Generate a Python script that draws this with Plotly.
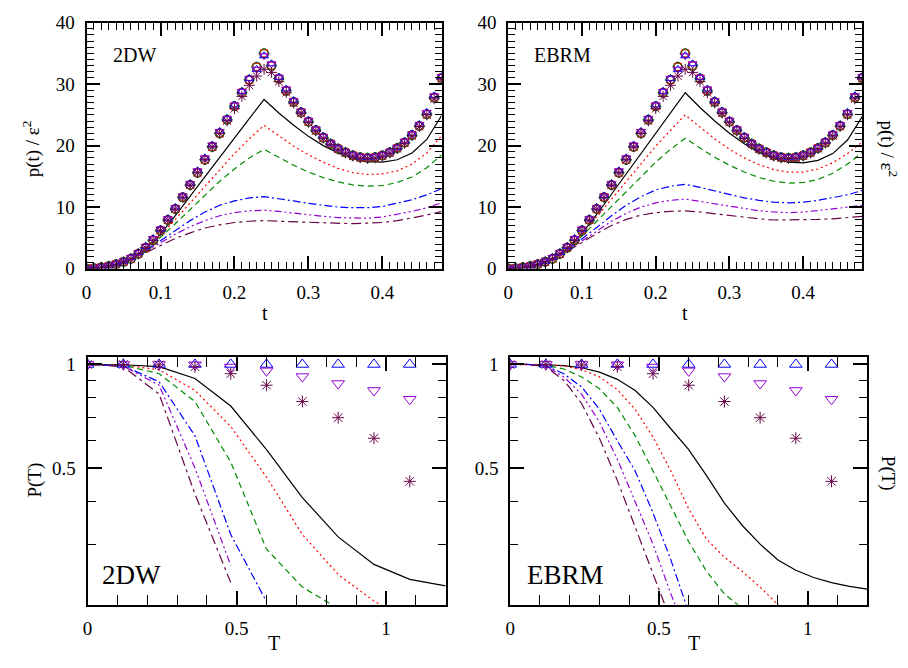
import plotly.graph_objects as go
import math

# ---------------- data ----------------
# top panels: p(t)/eps^2 versus t
t_mark = [0.00, 0.01, 0.02, 0.03, 0.04, 0.05, 0.06, 0.07, 0.08, 0.09,
          0.10, 0.11, 0.12, 0.13, 0.14, 0.15, 0.16, 0.17, 0.18, 0.19,
          0.20, 0.21, 0.22, 0.23, 0.24, 0.25, 0.26, 0.27, 0.28, 0.29,
          0.30, 0.31, 0.32, 0.33, 0.34, 0.35, 0.36, 0.37, 0.38, 0.39,
          0.40, 0.41, 0.42, 0.43, 0.44, 0.45, 0.46, 0.47, 0.48]
p_mark = [0.0, 0.05, 0.2, 0.4, 0.7, 1.1, 1.6, 2.4, 3.4, 4.6,
          6.2, 7.9, 9.7, 11.6, 13.6, 15.6, 17.7, 19.8, 22.0, 24.2,
          26.4, 28.6, 30.7, 32.8, 35.0, 33.0, 30.9, 28.9, 27.1, 25.4,
          23.9, 22.5, 21.3, 20.3, 19.5, 18.9, 18.4, 18.1, 18.0, 18.1,
          18.4, 18.9, 19.6, 20.5, 21.7, 23.2, 25.1, 27.8, 31.0]
p_tri = [0.0, 0.1, 0.25, 0.45, 0.8, 1.2, 1.8, 2.6, 3.6, 4.9,
         6.4, 8.1, 9.9, 11.8, 13.8, 15.9, 18.0, 20.1, 22.3, 24.4,
         26.6, 28.8, 30.9, 32.4, 34.6, 33.3, 31.1, 29.2, 27.3, 25.6,
         24.1, 22.7, 21.5, 20.4, 19.6, 19.0, 18.5, 18.2, 18.1, 18.2,
         18.5, 19.0, 19.7, 20.7, 21.9, 23.4, 25.4, 28.1, 31.2]
p_star = [0.0, 0.05, 0.2, 0.4, 0.7, 1.1, 1.6, 2.4, 3.4, 4.6,
          6.2, 7.9, 9.7, 11.6, 13.6, 15.6, 17.7, 19.8, 22.0, 24.0,
          26.0, 28.0, 29.8, 31.3, 32.4, 31.9, 30.4, 28.6, 26.9, 25.3,
          23.8, 22.4, 21.2, 20.2, 19.4, 18.8, 18.3, 18.0, 17.9, 18.0,
          18.3, 18.8, 19.5, 20.4, 21.6, 23.1, 25.0, 27.6, 30.8]

t_line = [0.00, 0.02, 0.04, 0.06, 0.08, 0.10, 0.12, 0.14, 0.16, 0.18, 0.20, 0.22, 0.24,
          0.26, 0.28, 0.30, 0.32, 0.34, 0.36, 0.38, 0.40, 0.42, 0.44, 0.46, 0.48]

# 2DW lines
dw_black  = [0, 0.2, 0.7, 1.6, 3.2, 5.6, 8.6, 11.8, 15.0, 18.2, 21.3, 24.4, 27.5,
             25.3, 23.3, 21.5, 20.0, 18.8, 17.9, 17.4, 17.3, 17.7, 18.8, 21.0, 24.9]
dw_red    = [0, 0.2, 0.7, 1.6, 3.2, 5.4, 8.0, 10.7, 13.4, 16.1, 18.7, 21.1, 23.3,
             21.6, 19.9, 18.5, 17.3, 16.3, 15.6, 15.3, 15.4, 15.9, 17.0, 18.8, 21.6]
dw_green  = [0, 0.2, 0.7, 1.6, 3.1, 5.1, 7.3, 9.6, 11.9, 14.2, 16.2, 18.0, 19.4,
             18.1, 16.8, 15.7, 14.8, 14.1, 13.6, 13.4, 13.5, 14.0, 14.9, 16.4, 18.5]
dw_blue   = [0, 0.2, 0.7, 1.5, 2.9, 4.5, 6.2, 7.8, 9.2, 10.3, 11.0, 11.5, 11.7,
             11.4, 11.0, 10.6, 10.3, 10.0, 9.9, 9.9, 10.1, 10.6, 11.2, 12.0, 13.0]
dw_violet = [0, 0.2, 0.7, 1.5, 2.8, 4.2, 5.6, 6.8, 7.8, 8.6, 9.1, 9.4, 9.5,
             9.3, 9.0, 8.7, 8.5, 8.3, 8.2, 8.2, 8.4, 8.8, 9.3, 9.9, 10.7]
dw_maroon = [0, 0.2, 0.7, 1.4, 2.6, 3.8, 4.9, 5.8, 6.6, 7.1, 7.5, 7.7, 7.8,
             7.7, 7.6, 7.5, 7.4, 7.3, 7.3, 7.4, 7.5, 7.8, 8.2, 8.7, 9.3]

# EBRM lines
eb_black  = [0, 0.2, 0.7, 1.6, 3.2, 5.7, 8.8, 12.1, 15.5, 18.9, 22.1, 25.4, 28.6,
             26.2, 24.0, 22.0, 20.3, 18.9, 17.9, 17.3, 17.2, 17.6, 18.7, 20.9, 24.7]
eb_red    = [0, 0.2, 0.7, 1.6, 3.2, 5.6, 8.4, 11.3, 14.2, 17.1, 19.9, 22.5, 25.0,
             23.0, 21.1, 19.4, 18.0, 16.9, 16.1, 15.7, 15.7, 16.2, 17.2, 18.7, 20.6]
eb_green  = [0, 0.2, 0.7, 1.6, 3.1, 5.3, 7.7, 10.1, 12.6, 15.0, 17.3, 19.4, 21.2,
             19.6, 18.1, 16.8, 15.7, 14.8, 14.2, 13.9, 14.0, 14.5, 15.5, 17.0, 18.9]
eb_blue   = [0, 0.2, 0.7, 1.5, 3.0, 4.8, 6.7, 8.6, 10.3, 11.7, 12.8, 13.4, 13.7,
             13.2, 12.6, 12.0, 11.5, 11.1, 10.8, 10.7, 10.8, 11.1, 11.5, 12.0, 12.7]
eb_violet = [0, 0.2, 0.7, 1.5, 2.9, 4.5, 6.2, 7.7, 9.0, 10.0, 10.7, 11.1, 11.3,
             10.9, 10.5, 10.1, 9.7, 9.4, 9.2, 9.1, 9.2, 9.4, 9.7, 10.0, 10.3]
eb_maroon = [0, 0.2, 0.7, 1.5, 2.8, 4.3, 5.7, 7.0, 8.0, 8.7, 9.1, 9.3, 9.4,
             9.2, 8.9, 8.6, 8.3, 8.1, 7.9, 7.9, 7.9, 8.0, 8.1, 8.3, 8.5]

# bottom panels: P(T) versus T
T_mark = [0.00, 0.12, 0.24, 0.36, 0.48, 0.60, 0.72, 0.84, 0.96, 1.08]
dw_up   = [1.0, 1.0, 1.0, 1.0, 1.0, 1.0, 1.0, 1.0, 1.0, 1.0]
dw_down = [1.0, 1.0, 1.0, 0.998, 0.983, 0.958, 0.922, 0.88, 0.84, 0.792]
dw_star = [1.0, 1.0, 0.997, 0.985, 0.94, 0.87, 0.78, 0.70, 0.61, 0.457]
eb_up   = [1.0, 1.0, 1.0, 1.0, 1.0, 1.0, 1.0, 1.0, 1.0, 1.0]
eb_down = [1.0, 1.0, 1.0, 0.998, 0.983, 0.958, 0.922, 0.88, 0.84, 0.792]
eb_star = [1.0, 1.0, 0.997, 0.985, 0.94, 0.87, 0.78, 0.70, 0.61, 0.457]

# 2DW lines (coarse grid)
T_line = [0.00, 0.12, 0.24, 0.36, 0.48, 0.60, 0.72, 0.84, 0.96, 1.08, 1.20]
dwP_black  = [1.0, 0.998, 0.985, 0.91, 0.757, 0.565, 0.41, 0.315, 0.262, 0.237, 0.227]
dwP_red    = [1.0, 0.996, 0.965, 0.84, 0.66, 0.47, 0.32, 0.245, 0.205, 0.18]
dwP_green  = [1.0, 0.995, 0.94, 0.78, 0.52, 0.29, 0.225, 0.195]
dwP_blue   = [1.0, 0.99, 0.89, 0.62, 0.32, 0.204]
dwP_violet = [1.0, 0.99, 0.87, 0.50, 0.26]
dwP_maroon = [1.0, 0.985, 0.82, 0.42, 0.232]

# EBRM lines (fine grid)
T_fine = [0.00, 0.06, 0.12, 0.18, 0.24, 0.30, 0.36, 0.42, 0.48, 0.54, 0.60,
          0.66, 0.72, 0.78, 0.84, 0.90, 0.96, 1.02, 1.08, 1.14, 1.20]
ebP_black  = [1.0, 1.0, 0.998, 0.992, 0.978, 0.95, 0.905, 0.84, 0.75, 0.65, 0.565,
              0.475, 0.395, 0.34, 0.30, 0.27, 0.252, 0.24, 0.232, 0.226, 0.222]
ebP_red    = [1.0, 1.0, 0.997, 0.99, 0.965, 0.92, 0.845, 0.74, 0.615, 0.49, 0.38,
              0.31, 0.275, 0.25, 0.225, 0.20, 0.185]
ebP_green  = [1.0, 1.0, 0.995, 0.97, 0.92, 0.85, 0.75, 0.62, 0.49, 0.385, 0.305,
              0.25, 0.215, 0.195]
ebP_blue   = [1.0, 1.0, 0.99, 0.94, 0.86, 0.74, 0.60, 0.49, 0.37, 0.27, 0.19]
ebP_violet = [1.0, 1.0, 0.988, 0.92, 0.82, 0.68, 0.53, 0.40, 0.30, 0.215, 0.16]
ebP_maroon = [1.0, 1.0, 0.985, 0.90, 0.77, 0.61, 0.46, 0.335, 0.245, 0.18]

# ---------------- style ----------------
BLACK, RED, GREEN, BLUE, VIOLET, MAROON = "#000000", "#ff0000", "#008b00", "#0000ff", "#9400d3", "#670748"
line_styles = [
    (BLACK, "solid"),
    (RED, "2px,3px"),
    (GREEN, "6px,4px"),
    (BLUE, "8px,3px,2px,3px"),
    (VIOLET, "7px,3px,2px,3px,2px,3px"),
    (MAROON, "10px,4px,3px,4px"),
]
FONT = "Liberation Serif, Times New Roman, serif"

fig = go.Figure()

def add_lines(xs, ys_list, xa, ya):
    for ys, (c, d) in zip(ys_list, line_styles):
        fig.add_trace(go.Scatter(x=xs[:len(ys)], y=ys, mode="lines",
                                 line=dict(color=c, dash=d, width=1.2),
                                 xaxis=xa, yaxis=ya, showlegend=False, hoverinfo="skip"))

def add_marks(xs, ys, sym, color, xa, ya, size=9):
    fig.add_trace(go.Scatter(x=xs, y=ys, mode="markers",
                             marker=dict(symbol=sym, size=size, color=color,
                                         line=dict(color=color, width=1.0)),
                             xaxis=xa, yaxis=ya, showlegend=False, hoverinfo="skip"))

# top panels
for xa, ya, lines in [("x", "y", [dw_black, dw_red, dw_green, dw_blue, dw_violet, dw_maroon]),
                      ("x2", "y2", [eb_black, eb_red, eb_green, eb_blue, eb_violet, eb_maroon])]:
    add_lines(t_line, lines, xa, ya)
    add_marks(t_mark, p_mark, "circle-open", BLACK, xa, ya, 9)
    add_marks(t_mark, p_mark, "square-open", RED, xa, ya, 7)
    add_marks(t_mark, p_mark, "diamond-open", GREEN, xa, ya, 8)
    add_marks(t_mark, p_tri, "triangle-up-open", BLUE, xa, ya, 8)
    add_marks(t_mark, p_tri, "triangle-down-open", VIOLET, xa, ya, 8)
    add_marks(t_mark, p_star, "asterisk-open", MAROON, xa, ya, 9)

# bottom panels
for xa, ya, Tl, lines, up, down, star in [
        ("x3", "y3", T_line, [dwP_black, dwP_red, dwP_green, dwP_blue, dwP_violet, dwP_maroon], dw_up, dw_down, dw_star),
        ("x4", "y4", T_fine, [ebP_black, ebP_red, ebP_green, ebP_blue, ebP_violet, ebP_maroon], eb_up, eb_down, eb_star)]:
    add_lines(Tl, lines, xa, ya)
    add_marks(T_mark, up, "triangle-up-open", BLUE, xa, ya, 11)
    add_marks(T_mark, down, "triangle-down-open", VIOLET, xa, ya, 11)
    add_marks(T_mark, star, "asterisk-open", MAROON, xa, ya, 10)

W, H = 908, 668
def px(x): return x / W
def py(y): return 1 - y / H

def axis(domain, anchor, rng, dtick, mdtick, ticklen=13, mlen=7, **kw):
    d = dict(domain=domain, anchor=anchor, range=rng, showline=True, linecolor="black",
             linewidth=2, mirror="allticks", ticks="inside", ticklen=ticklen, tickwidth=1.5,
             tickcolor="black", showgrid=False, zeroline=False, dtick=dtick, tick0=0,
             tickfont=dict(family=FONT, size=19, color="black"),
             ticklabelstandoff=6,
             minor=dict(ticks="inside", ticklen=mlen, tickwidth=1.2, tickcolor="black",
                        dtick=mdtick, tick0=0, showgrid=False))
    d.update(kw)
    return d

logminor = dict(ticks="inside", ticklen=8, tickwidth=1.2, tickcolor="black",
                tickmode="array", tickvals=[0.3, 0.4, 0.6, 0.7, 0.8, 0.9], showgrid=False)

def logaxis(domain, anchor):
    return dict(domain=domain, anchor=anchor, type="log",
                range=[math.log10(0.2), math.log10(1.053)],
                showline=True, linecolor="black", linewidth=2, mirror="allticks",
                ticks="inside", ticklen=14, tickwidth=1.5, tickcolor="black",
                showgrid=False, zeroline=False, tickmode="array",
                tickvals=[0.5, 1], ticktext=["0.5", "1"],
                tickfont=dict(family=FONT, size=19, color="black"),
                ticklabelstandoff=6, minor=logminor)

fig.update_layout(
    width=W, height=H, margin=dict(l=0, r=0, t=0, b=0),
    paper_bgcolor="white", plot_bgcolor="white",
    xaxis=axis([px(82), px(439)], "y", [0, 0.48], 0.1, 0.01),
    yaxis=axis([py(267), py(13)], "x", [0, 40], 10, 1),
    xaxis2=axis([px(506), px(862)], "y2", [0, 0.48], 0.1, 0.01),
    yaxis2=axis([py(267), py(13)], "x2", [0, 40], 10, 1),
    xaxis3=axis([px(83), px(443)], "y3", [0, 1.2], 0.5, 0.1, ticklen=14, mlen=10),
    yaxis3=logaxis([py(614), py(358)], "x3"),
    xaxis4=axis([px(508), px(867)], "y4", [0, 1.2], 0.5, 0.1, ticklen=14, mlen=10),
    yaxis4=logaxis([py(614), py(358)], "x4"),
)

def ann(x, y, text, size=19, angle=0):
    fig.add_annotation(x=px(x), y=py(y), xref="paper", yref="paper", text=text,
                       showarrow=False, textangle=angle,
                       font=dict(family=FONT, size=size, color="black"),
                       xanchor="center", yanchor="middle")

ann(130, 46, "2DW", 20)
ann(561, 46, "EBRM", 20)
ann(127, 583, "2DW", 27)
ann(564, 583, "EBRM", 27)
ann(261, 313, "t", 20)
ann(684, 313, "t", 20)
ann(270, 654, "T", 20)
ann(693, 654, "T", 20)
ann(27, 143, "p(t) / ε<sup>2</sup>", 19, -90)
ann(888, 143, "p(t) / ε<sup>2</sup>", 19, 90)
ann(30, 485, "P(T)", 19, -90)
ann(888, 478, "P(T)", 19, 90)

fig.write_html("out.html")
